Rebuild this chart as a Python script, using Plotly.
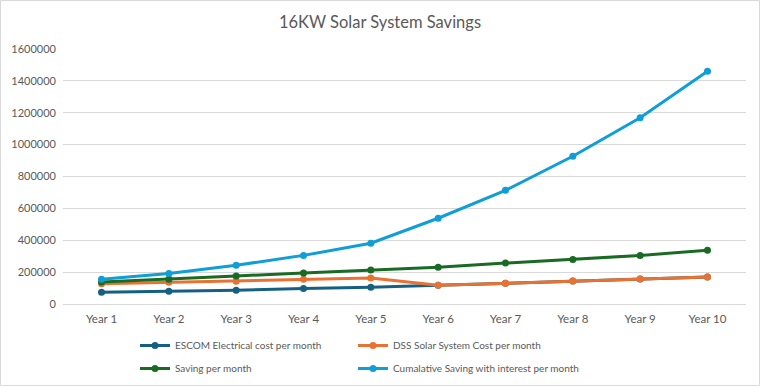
import plotly.graph_objects as go

years = ["Year 1", "Year 2", "Year 3", "Year 4", "Year 5",
         "Year 6", "Year 7", "Year 8", "Year 9", "Year 10"]
escom = [73000, 80000, 86000, 98000, 105000, 117000, 130000, 144000, 157000, 169000]
dss = [127000, 136000, 142000, 155000, 163000, 117000, 130000, 144000, 157000, 169000]
saving = [138000, 155000, 176000, 194000, 213000, 230000, 257000, 280000, 305000, 337000]
cumulative = [155000, 192000, 243000, 305000, 381000, 538000, 713000, 927000, 1169000, 1460000]

series = [
    ("ESCOM Electrical cost per month", escom, "#156082", "legend"),
    ("DSS Solar System Cost per month", dss, "#E97132", "legend2"),
    ("Saving per month", saving, "#196B24", "legend"),
    ("Cumalative Saving with interest per month", cumulative, "#0F9ED5", "legend2"),
]

W, H = 760, 386
ml, mr, mt, mb = 63, 14, 49, 82
pw = W - ml - mr
ph = H - mt - mb

fig = go.Figure()
for name, vals, col, lg in series:
    fig.add_trace(go.Scatter(
        x=years, y=vals, name=name, mode="lines+markers",
        line=dict(color=col, width=3),
        marker=dict(color=col, size=7),
        legend=lg, legendgroup=name,
    ))

fig.add_shape(type="rect", xref="paper", yref="paper",
              x0=(0.5 - ml) / pw, x1=(W - 0.5 - ml) / pw,
              y0=-(mb - 0.5) / ph, y1=1 + (mt - 0.5) / ph,
              line=dict(color="#D9D9D9", width=1), layer="below")


def px_x(x):
    return (x - ml) / pw


def px_y(y):
    return (H - mb - y) / ph


legend_common = dict(orientation="v", xanchor="left", yanchor="top",
                     font=dict(size=10, color="#595959"), itemwidth=30,
                     tracegroupgap=4, bgcolor="rgba(0,0,0,0)")

fig.update_layout(
    width=W, height=H,
    margin=dict(l=ml, r=mr, t=mt, b=mb, autoexpand=False),
    paper_bgcolor="white", plot_bgcolor="white",
    font=dict(family="Lato, Open Sans, sans-serif", color="#595959", size=11),
    title=dict(text="16KW Solar System Savings", x=0.5, xanchor="center",
               y=1 - 22 / H, yanchor="middle",
               font=dict(size=16.5, color="#595959", family="Lato, Open Sans, sans-serif")),
    xaxis=dict(type="category", showgrid=False, showline=True, linecolor="#D9D9D9",
               linewidth=1, ticks="", tickfont=dict(size=11.5, color="#595959"),
               zeroline=False, automargin=False, ticklabelstandoff=4),
    yaxis=dict(range=[0, 1600000], dtick=200000, tickformat="d",
               showgrid=True, gridcolor="#D9D9D9", gridwidth=1,
               zeroline=False, showline=False, ticks="", automargin=False,
               ticklabelstandoff=6,
               tickfont=dict(size=11, color="#595959")),
    legend=dict(x=px_x(135), y=px_y(331), **legend_common),
    legend2=dict(x=px_x(353), y=px_y(331), **legend_common),
    showlegend=True,
)

fig.write_html("out.html", config={"displayModeBar": False},
               post_script="document.body.style.margin='0px';")
